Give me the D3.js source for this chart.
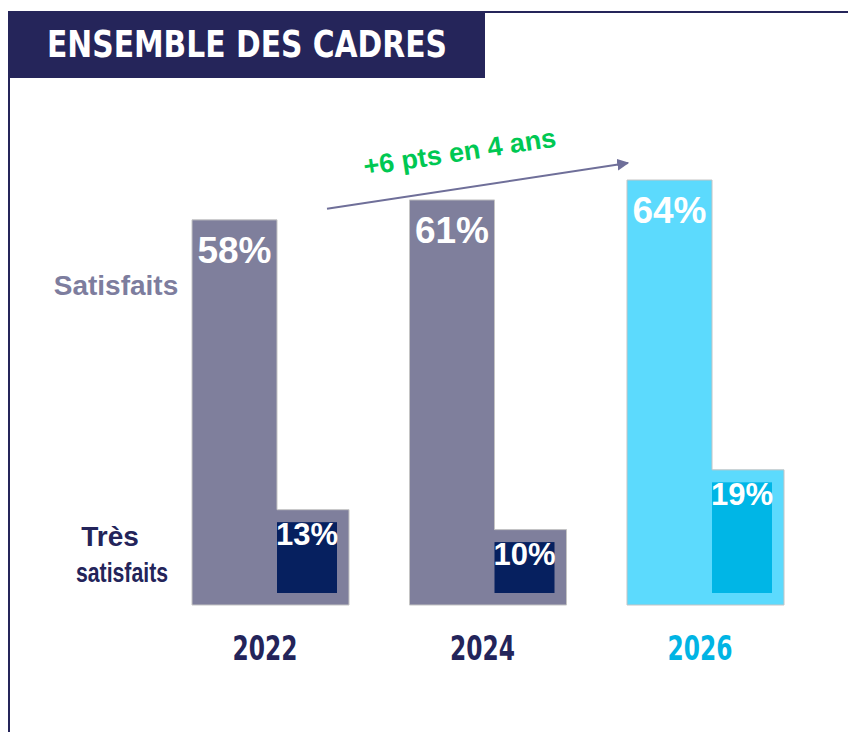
<!DOCTYPE html>
<html>
<head>
<meta charset="utf-8">
<script src="https://cdn.jsdelivr.net/npm/d3@7"></script>
<style>
  body { margin: 0; background: #fff; }
  text { font-family: "Liberation Sans", Arial, sans-serif; font-weight: bold; }
</style>
</head>
<body>
<div id="chart"></div>
<script>
const WIDTH = 848;
const HEIGHT = 732;

const years = ["2022", "2024", "2026"];
const satisfaits = [58, 61, 64];
const tresSatisfaits = [13, 10, 19];
const highlight = "2026";

const NAVY = "#25255a";
const CONDENSED = '"Liberation Sans Narrow", "DejaVu Sans Condensed", sans-serif';

const svg = d3.select("#chart")
    .append("svg")
    .attr("width", WIDTH)
    .attr("height", HEIGHT);

// frame + title band
svg.append("line")
    .attr("x1", 8).attr("x2", WIDTH).attr("y1", 12).attr("y2", 12)
    .attr("stroke", NAVY).attr("stroke-width", 2);
svg.append("line")
    .attr("x1", 9).attr("x2", 9).attr("y1", 11).attr("y2", HEIGHT)
    .attr("stroke", NAVY).attr("stroke-width", 2);
svg.append("rect")
    .attr("x", 8).attr("y", 11).attr("width", 477).attr("height", 67)
    .attr("fill", NAVY);
svg.append("text")
    .attr("x", 47).attr("y", 57)
    .attr("fill", "#fff")
    .attr("font-size", 38)
    .style("font-family", CONDENSED)
    .attr("textLength", 400)
    .attr("lengthAdjust", "spacingAndGlyphs")
    .text("ENSEMBLE DES CADRES");

// scales
const x = d3.scaleBand()
    .domain(years)
    .range([192, 192 + 217.5 * years.length]);

const y = d3.scaleLinear()
    .domain([0, 64])
    .range([605, 180]);

const TALL_W = 85, FOOT_W = 72, INNER_W = 60;

const data = years.map((yr, i) => ({ year: yr, sat: satisfaits[i], tres: tresSatisfaits[i] }));
const isHi = d => d.year === highlight;

const groups = svg.selectAll("g.bar")
    .data(data)
    .enter().append("g")
    .attr("class", "bar");

// L-shaped bar: tall part = satisfaits, foot = tres satisfaits
groups.append("path")
    .attr("d", d => {
        const x0 = x(d.year), x1 = x0 + TALL_W, x2 = x1 + FOOT_W;
        const yTop = y(d.sat), yFoot = y(d.tres) - 9, yBase = y(0);
        return `M${x0},${yBase}V${yTop}H${x1}V${yFoot}H${x2}V${yBase}Z`;
    })
    .attr("fill", d => isHi(d) ? "#5cdafd" : "#7f7f9c")
    .attr("stroke", "#c4c4c4")
    .attr("stroke-width", 1);

groups.append("rect")
    .attr("x", d => x(d.year) + TALL_W)
    .attr("y", d => y(d.tres) + 3.5)
    .attr("width", INNER_W)
    .attr("height", d => (y(0) - 12) - (y(d.tres) + 3.5))
    .attr("fill", d => isHi(d) ? "#00b6e6" : "#06205f");

groups.append("text")
    .attr("x", d => x(d.year) + TALL_W / 2)
    .attr("y", d => y(d.sat) + 43)
    .attr("text-anchor", "middle")
    .attr("fill", "#fff")
    .attr("font-size", 37)
    .text(d => d.sat + "%");

groups.append("text")
    .attr("x", d => x(d.year) + TALL_W + INNER_W / 2)
    .attr("y", d => y(d.tres) + 26)
    .attr("text-anchor", "middle")
    .attr("fill", "#fff")
    .attr("font-size", 31)
    .text(d => d.tres + "%");

// year labels
groups.append("text")
    .attr("x", d => x(d.year) + 73 - 32.5)
    .attr("y", 660)
    .attr("fill", d => isHi(d) ? "#00b4e4" : "#23245a")
    .attr("font-size", 33)
    .style("font-family", CONDENSED)
    .attr("textLength", 65)
    .attr("lengthAdjust", "spacingAndGlyphs")
    .text(d => d.year);

// row labels
svg.append("text")
    .attr("x", 116).attr("y", 295)
    .attr("text-anchor", "middle")
    .attr("fill", "#7d7d9e")
    .attr("font-size", 28)
    .text("Satisfaits");
svg.append("text")
    .attr("x", 110).attr("y", 546)
    .attr("text-anchor", "middle")
    .attr("fill", "#23245a")
    .attr("font-size", 28)
    .text("Très");
svg.append("text")
    .attr("x", 76).attr("y", 582)
    .attr("fill", "#23245a")
    .attr("font-size", 27)
    .attr("textLength", 92)
    .attr("lengthAdjust", "spacingAndGlyphs")
    .text("satisfaits");

// trend arrow
const first = data[0], last = data[data.length - 1];
const ax1 = x(first.year) + 135, ay1 = y(first.sat) - 11;
const ax2 = x(last.year) + 1, ay2 = y(last.sat) - 17;

svg.append("defs").append("marker")
    .attr("id", "arrow")
    .attr("viewBox", "0 0 10 10")
    .attr("refX", 9).attr("refY", 5)
    .attr("markerWidth", 6).attr("markerHeight", 6)
    .attr("markerUnits", "strokeWidth")
    .attr("orient", "auto")
    .append("path")
    .attr("d", "M0,0L10,5L0,10Z")
    .attr("fill", "#6f6f99");

svg.append("line")
    .attr("x1", ax1).attr("y1", ay1)
    .attr("x2", ax2).attr("y2", ay2)
    .attr("stroke", "#6f6f99")
    .attr("stroke-width", 2)
    .attr("marker-end", "url(#arrow)");

const angle = Math.atan2(ay2 - ay1, ax2 - ax1) * 180 / Math.PI;
const diff = last.sat - first.sat;
const span = +last.year - +first.year;
svg.append("text")
    .attr("transform", `translate(461,161) rotate(${angle})`)
    .attr("text-anchor", "middle")
    .attr("fill", "#00c853")
    .attr("font-size", 27)
    .text(`+${diff} pts en ${span} ans`);
</script>
</body>
</html>
